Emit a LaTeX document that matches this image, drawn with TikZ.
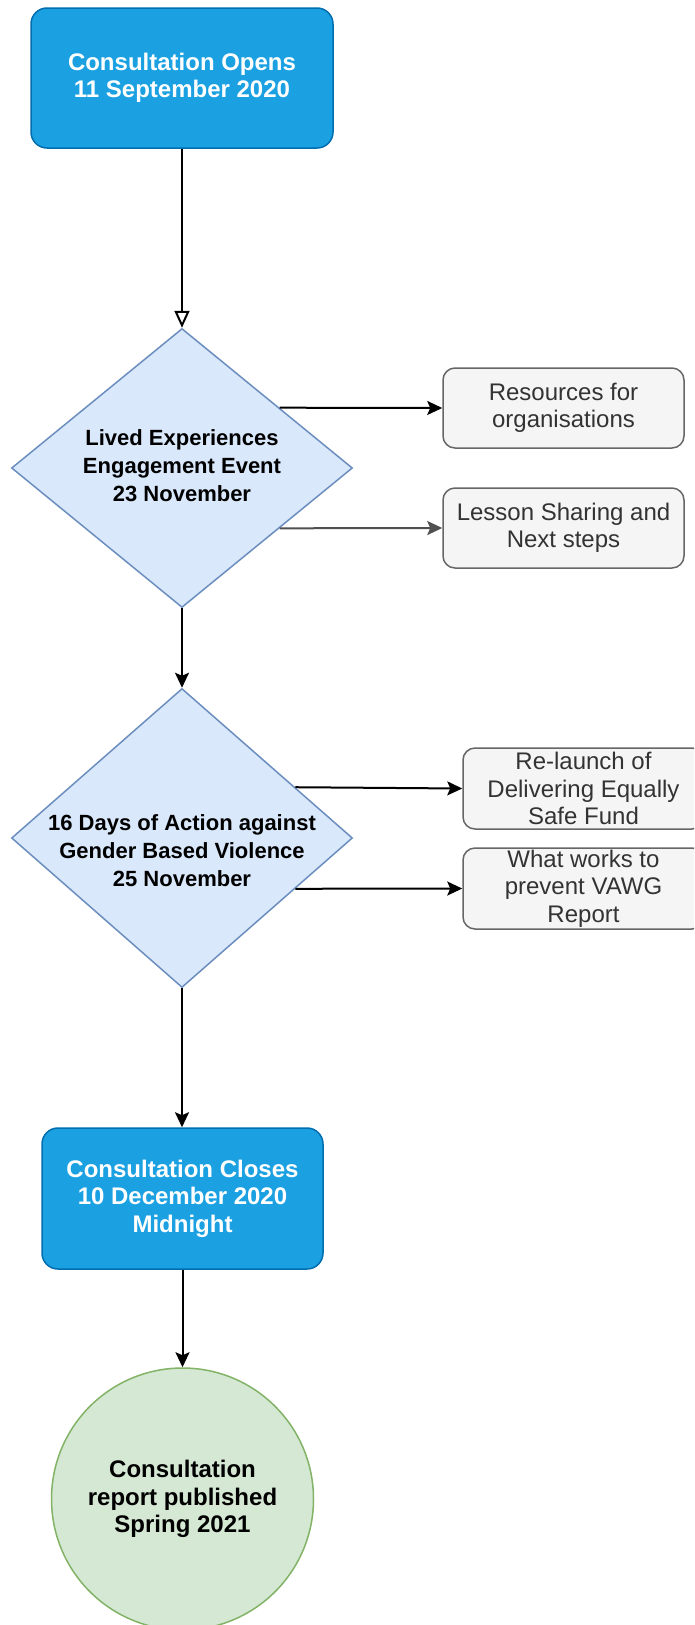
\documentclass[tikz,border=0pt]{standalone}
\usepackage{fontspec}
\setmainfont{Liberation Sans}
\usetikzlibrary{shapes.geometric,arrows.meta,calc}
\definecolor{bluefill}{HTML}{1BA1E2}
\definecolor{bluestroke}{HTML}{006EAF}
\definecolor{diafill}{HTML}{DAE8FC}
\definecolor{diastroke}{HTML}{6C8EBF}
\definecolor{grayfill}{HTML}{F5F5F5}
\definecolor{graystroke}{HTML}{666666}
\definecolor{graytext}{HTML}{333333}
\definecolor{greenfill}{HTML}{D5E8D4}
\definecolor{greenstroke}{HTML}{82B366}
\begin{document}
\begin{tikzpicture}[x=1pt,y=-1pt,
  bluebox/.style={draw=bluestroke, fill=bluefill, line width=1.5pt, rounded corners=16pt,
    text=white, font=\bfseries\fontsize{24}{27.5}\selectfont, align=center, inner sep=0pt},
  dia/.style={diamond, draw=diastroke, fill=diafill, line width=1.5pt, inner sep=0pt},
  diatext/.style={font=\bfseries\fontsize{22}{28}\selectfont, align=center, inner sep=0pt, text=black},
  graybox/.style={draw=graystroke, fill=grayfill, line width=1.5pt, rounded corners=12pt,
    text=graytext, font=\fontsize{24}{27.5}\selectfont, align=center, inner sep=0pt,
    minimum width=241pt, minimum height=80pt},
  circ/.style={circle, draw=greenstroke, fill=greenfill, line width=1.5pt, inner sep=0pt,
    font=\bfseries\fontsize{24}{27.5}\selectfont, align=center, text=black},
  arr/.style={draw=black, line width=2pt, -{Stealth[length=15pt, width=14pt, inset=3pt]}},
  openarr/.style={draw=black, line width=2pt, -{Triangle[open, length=17pt, width=15pt, line width=2pt]}}
]
\useasboundingbox (0,0) rectangle (694,1625);
\clip (0,0) rectangle (694,1625);
\fill[white] (0,0) rectangle (694,1625);

\node[bluebox, minimum width=302pt, minimum height=140pt] (open) at (182,78)
  {Consultation Opens\\11 September 2020};

\node[dia, minimum width=341pt, minimum height=279pt] (d1) at (182,468) {};
\node[diatext] (t1) at (182,466) {Lived Experiences\\Engagement Event\\23 November};

\node[graybox] (r1) at (563.5,408) {Resources for\\organisations};
\node[graybox] (r2) at (563.5,528) {Lesson Sharing and\\Next steps};

\node[dia, minimum width=341pt, minimum height=299pt] (d2) at (182,838) {};
\node[diatext] (t2) at (182,851) {16 Days of Action against\\Gender Based Violence\\25 November};

\node[graybox, minimum height=81pt] (r3) at (583.5,788.5) {Re-launch of\\Delivering Equally\\Safe Fund};
\node[graybox, minimum height=81pt] (r4) at (583.5,888.5) {What works to\\prevent VAWG\\Report};

\node[bluebox, minimum width=281pt, minimum height=141pt] (close) at (182.5,1198.5)
  {Consultation Closes\\10 December 2020\\Midnight};

\node[circ, minimum size=262pt] (pub) at (182.5,1499) {Consultation\\report published\\Spring 2021};

\draw[openarr] (open.south) -- (d1.north);
\draw[arr] ($(d1.east)!0.43!(d1.north)$) -- (r1.west);
\draw[arr, draw={rgb,255:red,80;green,80;blue,80}] ($(d1.east)!0.43!(d1.south)$) -- (r2.west);
\draw[arr] (d1.south) -- (d2.north);
\draw[arr] ($(d2.east)!0.338!(d2.north)$) -- (r3.west);
\draw[arr] ($(d2.east)!0.338!(d2.south)$) -- (r4.west);
\draw[arr] (d2.south) -- (d2.south |- close.north);
\draw[arr] (close.south) -- (pub.north);
\end{tikzpicture}
\end{document}
